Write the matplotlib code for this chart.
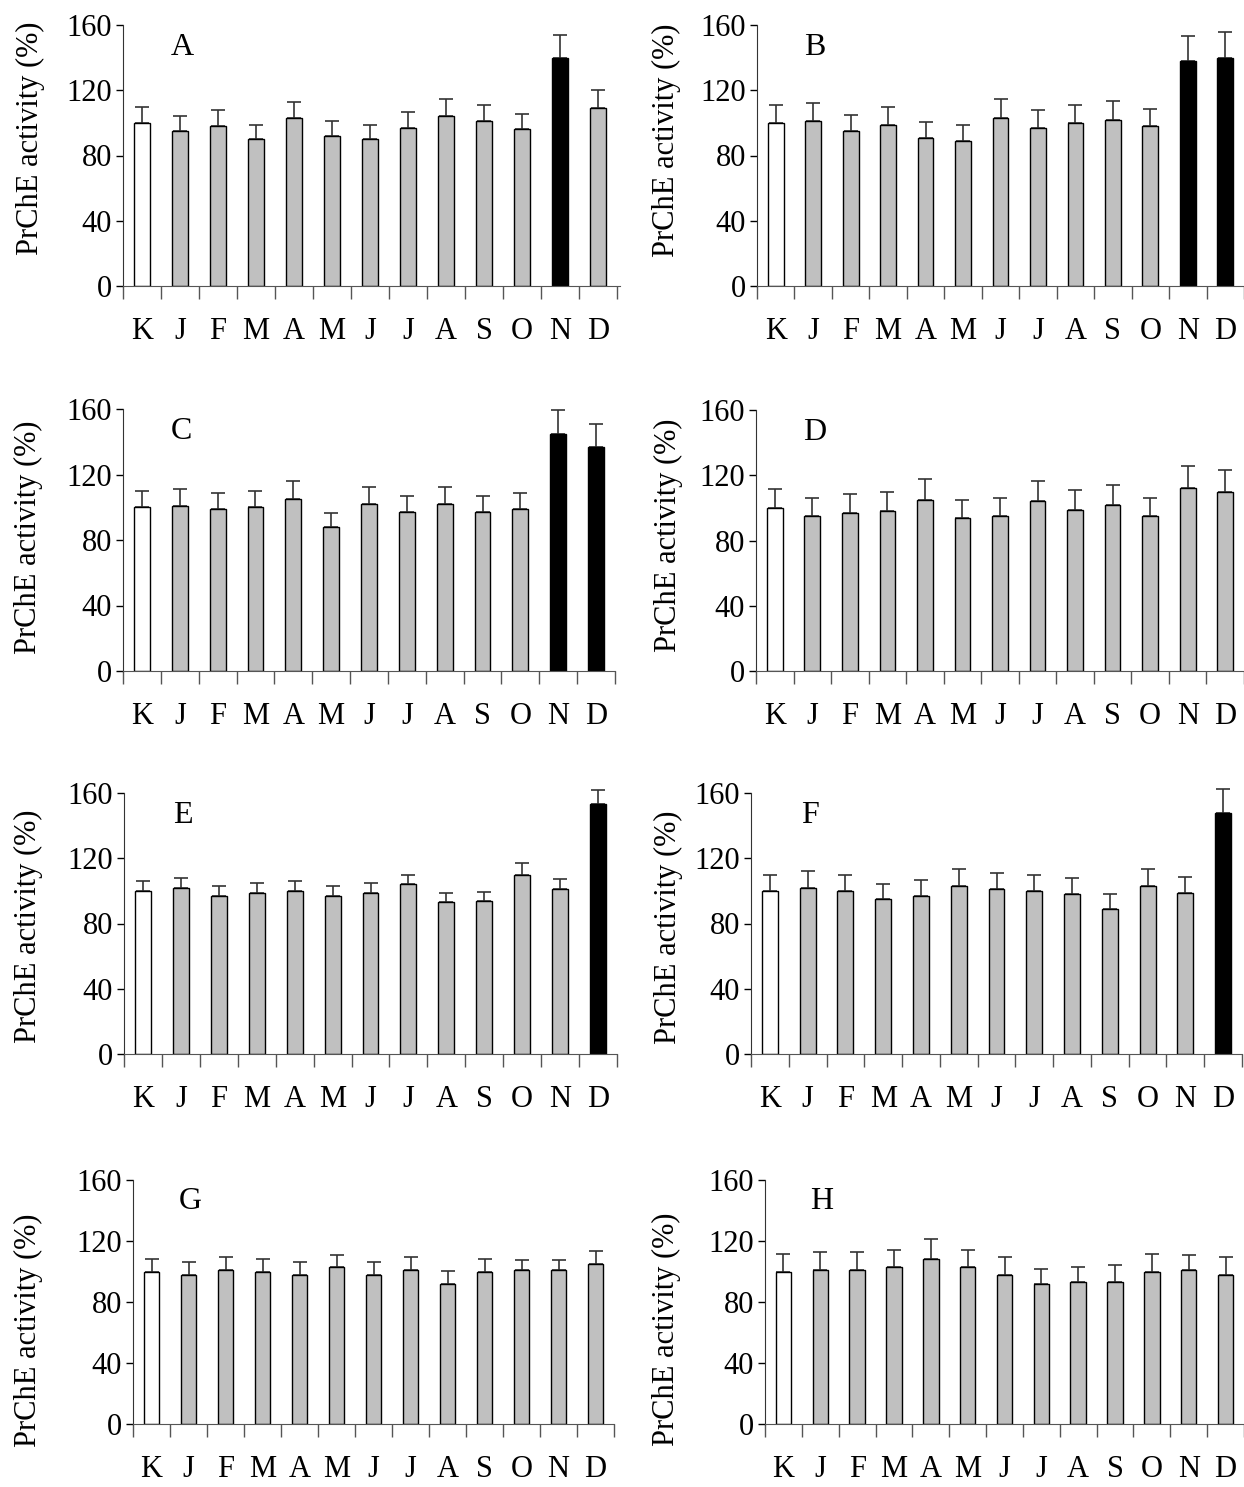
import matplotlib
matplotlib.use("Agg")
import matplotlib.pyplot as plt
import numpy as np

plt.rcParams["font.family"] = ["Liberation Serif", "DejaVu Serif"]

months = ["K", "J", "F", "M", "A", "M", "J", "J", "A", "S", "O", "N", "D"]

# mean activity (% of control) and upper SD for each panel
a_mean = [100, 95, 98, 90, 103, 92, 90, 97, 104, 101, 96, 140, 109]
a_err = [10, 9.5, 10, 9, 10, 9, 9, 9.5, 10.4, 9.8, 9.2, 14, 11]
b_mean = [100, 101, 95, 99, 91, 89, 103, 97, 100, 102, 98, 138, 140]
b_err = [11, 11, 10, 11, 9.6, 9.6, 11.4, 10.6, 11, 11.3, 10.8, 15.5, 15.5]
c_mean = [100, 101, 99, 100, 105, 88, 102, 97, 102, 97, 99, 145, 137]
c_err = [10, 10.2, 9.5, 10, 10.8, 8.3, 10.4, 9.8, 10.4, 9.8, 9.5, 14.5, 13.7]
d_mean = [100, 95, 97, 98, 105, 94, 95, 104, 99, 102, 95, 112, 110]
d_err = [11.6, 11.2, 11.4, 12, 12.5, 11, 11.2, 12.7, 12, 12, 11.2, 13.5, 13]
e_mean = [100, 102, 97, 99, 100, 97, 99, 104, 93, 94, 110, 101, 153]
e_err = [6, 6, 5.7, 6, 6, 5.8, 6, 6, 5.5, 5.5, 6.8, 6.2, 9]
f_mean = [100, 102, 100, 95, 97, 103, 101, 100, 98, 89, 103, 99, 148]
f_err = [10, 10, 10, 9.4, 9.7, 10.4, 9.7, 10, 9.7, 9, 10.4, 9.8, 14.5]
g_mean = [100, 98, 101, 100, 98, 103, 98, 101, 92, 100, 101, 101, 105]
g_err = [8, 8.3, 8.3, 8, 8.3, 7.9, 8.3, 8.3, 8.3, 8, 6.6, 6.6, 8.5]
h_mean = [100, 101, 101, 103, 108, 103, 98, 92, 93, 93, 100, 101, 98]
h_err = [11.4, 11.8, 11.8, 11.4, 13.3, 11.4, 11.6, 9.8, 10.1, 11.4, 11.4, 9.9, 11.6]

# indices of significantly changed months (black bars)
a_sig = [11]
b_sig = [11, 12]
c_sig = [11, 12]
d_sig = []
e_sig = [12]
f_sig = [12]
g_sig = []
h_sig = []

# letter, data, axes box in pixels (left, top, right, bottom), y-label centre (px offset, axes frac)
panels = [
    ("A", a_mean, a_err, a_sig, (123, 25, 620, 286), (-93, 0.567)),
    ("B", b_mean, b_err, b_sig, (757, 25, 1244, 286), (-91, 0.56)),
    ("C", c_mean, c_err, c_sig, (123, 409, 615, 671), (-95, 0.51)),
    ("D", d_mean, d_err, d_sig, (756, 410, 1244, 671), (-88, 0.52)),
    ("E", e_mean, e_err, e_sig, (124, 793, 617, 1054), (-96, 0.49)),
    ("F", f_mean, f_err, f_sig, (751, 793, 1242, 1054), (-83, 0.487)),
    ("G", g_mean, g_err, g_sig, (133, 1180, 614, 1424), (-105, 0.385)),
    ("H", h_mean, h_err, h_sig, (765, 1180, 1244, 1424), (-99, 0.39)),
]

W, H = 1244, 1487
fig = plt.figure(figsize=(W / 100, H / 100), dpi=100)

for letter, mean, err, sig, (x0, y0, x1, y1), (lx, ly) in panels:
    ax = fig.add_axes([x0 / W, 1 - y1 / H, (x1 - x0) / W, (y1 - y0) / H])
    n = len(months)
    x = np.arange(n) + 0.5
    colors = ["white"] + ["#c0c0c0"] * (n - 1)
    for i in sig:
        colors[i] = "black"
    ax.bar(x, mean, width=0.42, color=colors, edgecolor="black", linewidth=1, zorder=2)
    eb = ax.errorbar(x, mean, yerr=[np.zeros(n), err], fmt="none", ecolor="#333333",
                     elinewidth=1.2, capsize=5, capthick=1.2, zorder=1)
    for art in eb.lines[1] + eb.lines[2]:
        art.set_clip_on(False)
    ax.set_xlim(0, (x1 - x0) / 38.0)
    ax.set_ylim(0, 160)
    ax.set_yticks([0, 40, 80, 120, 160])
    ax.tick_params(axis="y", labelsize=22, direction="out", length=5, width=1, pad=3)
    ax.set_xticks(x)
    ax.set_xticklabels(months)
    ax.tick_params(axis="x", which="major", length=0, labelsize=22, pad=22)
    ax.set_xticks(np.arange(n + 1), minor=True)
    ax.tick_params(axis="x", which="minor", length=9, width=1, direction="out",
                   color="#555555")
    ax.spines["top"].set_visible(False)
    ax.spines["right"].set_visible(False)
    ax.spines["left"].set_color("#333333")
    ax.spines["bottom"].set_color("#555555")
    ax.set_ylabel("PrChE activity (%)", fontsize=22, va="center")
    ax.yaxis.set_label_coords(lx / (x1 - x0), ly)
    ax.text(1.55, 146, letter, fontsize=23, ha="center", va="center")

fig.savefig("out.png", dpi=100)
